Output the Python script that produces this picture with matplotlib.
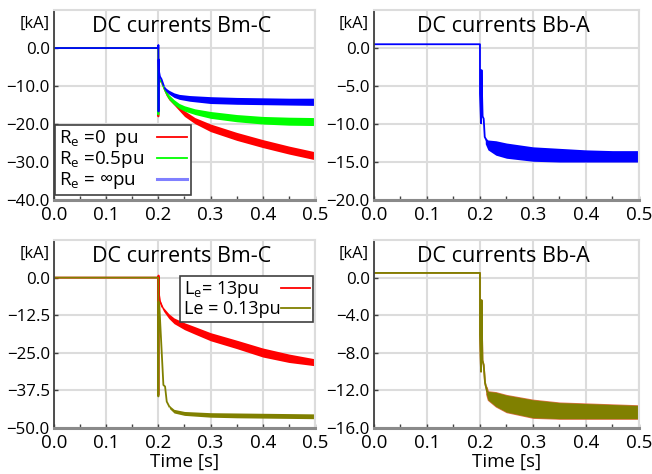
import matplotlib
matplotlib.use('Agg')
import matplotlib.pyplot as plt
from matplotlib.ticker import MultipleLocator

plt.rcParams['font.family'] = ['Open Sans', 'DejaVu Sans']
plt.rcParams['mathtext.default'] = 'regular'

# --- Bm-C, earthing resistance cases (kA) ---
# pre-fault / first transient as lines, oscillating part as min/max envelope
bm_r0_t = [0.0, 0.1999, 0.2, 0.2003, 0.2006, 0.201, 0.203, 0.205]
bm_r0_v = [0.0, 0.0, -18.0, -6.0, -7.5, -8.0, -8.5, -8.8]
bm_r0_bt = [0.205, 0.21, 0.215, 0.22, 0.23, 0.24, 0.25, 0.27, 0.3, 0.35, 0.4, 0.45, 0.5]
bm_r0_hi = [-8.3, -10.0, -11.4, -12.4, -13.8, -15.2, -16.5, -18.3, -20.0, -22.2, -24.1, -25.8, -27.3]
bm_r0_lo = [-9.3, -11.0, -12.5, -13.6, -15.0, -16.5, -18.0, -19.9, -22.0, -24.3, -26.2, -27.9, -29.4]

bm_r05_t = [0.0, 0.1999, 0.2, 0.2003, 0.2006, 0.201, 0.203, 0.205]
bm_r05_v = [0.0, 0.0, -17.5, -6.0, -7.5, -8.0, -8.5, -8.8]
bm_r05_bt = [0.205, 0.21, 0.215, 0.22, 0.23, 0.24, 0.25, 0.27, 0.3, 0.35, 0.4, 0.45, 0.5]
bm_r05_hi = [-8.3, -10.0, -11.3, -12.3, -13.6, -14.6, -15.2, -16.0, -16.7, -17.5, -18.0, -18.2, -18.3]
bm_r05_lo = [-9.3, -11.0, -12.4, -13.5, -14.9, -15.9, -16.6, -17.5, -18.5, -19.4, -20.0, -20.3, -20.4]

bm_rinf_t = [0.0, 0.1999, 0.2, 0.2003, 0.2006, 0.201, 0.2015, 0.203, 0.206, 0.21]
bm_rinf_v = [0.0, 0.0, 0.8, -16.7, -3.0, -6.0, -6.4, -7.5, -8.2, -9.8]
bm_rinf_bt = [0.21, 0.215, 0.22, 0.23, 0.24, 0.26, 0.3, 0.35, 0.4, 0.45, 0.5]
bm_rinf_hi = [-9.8, -10.6, -11.1, -11.8, -12.2, -12.5, -12.8, -13.0, -13.1, -13.2, -13.2]
bm_rinf_lo = [-10.6, -11.5, -12.1, -13.0, -13.5, -14.0, -14.6, -14.8, -14.9, -15.0, -15.1]

# --- Bb-A, R_e = inf ---
bb_r_t = [0.0, 0.2, 0.2, 0.202, 0.203, 0.2035, 0.205, 0.207, 0.209, 0.212]
bb_r_v = [0.5, 0.5, -6.0, -9.9, -2.9, -5.0, -9.0, -9.3, -11.7, -12.1]
bb_r_bt = [0.21, 0.215, 0.23, 0.25, 0.3, 0.35, 0.4, 0.45, 0.5]
bb_r_hi = [-11.8, -12.1, -12.2, -12.5, -13.0, -13.2, -13.4, -13.5, -13.5]
bb_r_lo = [-12.6, -13.4, -14.1, -14.5, -14.9, -15.0, -15.0, -15.0, -15.0]

# --- Bm-C, earthing inductance cases ---
bm_l13_t = [0.0, 0.1999, 0.2, 0.2003, 0.2006, 0.2032, 0.207]
bm_l13_v = [0.0, 0.0, -39.0, 0.7, -5.0, -7.9, -9.6]
bm_l13_bt = [0.203, 0.207, 0.21, 0.215, 0.22, 0.23, 0.25, 0.27, 0.3, 0.35, 0.4, 0.45, 0.5]
bm_l13_hi = [-7.5, -9.2, -10.0, -11.0, -12.0, -13.4, -15.0, -16.3, -18.3, -20.8, -23.4, -25.4, -27.0]
bm_l13_lo = [-8.3, -10.2, -11.2, -12.4, -13.6, -15.3, -17.3, -18.8, -21.0, -23.6, -26.4, -28.2, -29.3]

bm_l013_t = [0.0, 0.1999, 0.2, 0.2003, 0.2019, 0.2096, 0.2128, 0.216, 0.221]
bm_l013_v = [0.0, 0.0, -39.5, -8.0, -9.6, -35.7, -36.2, -41.2, -42.9]
bm_l013_bt = [0.221, 0.23, 0.25, 0.3, 0.35, 0.4, 0.45, 0.5]
bm_l013_hi = [-42.5, -43.8, -44.5, -44.9, -45.0, -45.1, -45.2, -45.3]
bm_l013_lo = [-43.5, -45.0, -45.8, -46.4, -46.6, -46.7, -46.8, -46.9]

# --- Bb-A, earthing inductance cases (both nearly coincide) ---
bb_l13_t = [0.0, 0.2, 0.2, 0.202, 0.203, 0.2035, 0.2047, 0.207, 0.2096, 0.2134]
bb_l13_v = [0.5, 0.5, -6.0, -10.0, -2.4, -5.0, -8.8, -9.3, -11.2, -12.1]
bb_l13_bt = [0.212, 0.215, 0.23, 0.25, 0.3, 0.35, 0.4, 0.45, 0.5]
bb_l13_hi = [-11.6, -12.1, -12.2, -12.5, -13.0, -13.3, -13.4, -13.5, -13.6]
bb_l13_lo = [-12.4, -13.0, -13.7, -14.3, -14.9, -15.0, -15.0, -15.0, -15.0]

bb_l013_t = [0.0, 0.2, 0.2, 0.202, 0.203, 0.2035, 0.2047, 0.207, 0.2096, 0.2134]
bb_l013_v = [0.5, 0.5, -6.0, -10.0, -2.4, -5.0, -8.8, -9.3, -11.2, -12.1]
bb_l013_bt = [0.212, 0.215, 0.23, 0.25, 0.3, 0.35, 0.4, 0.45, 0.5]
bb_l013_hi = [-11.6, -12.1, -12.2, -12.5, -13.0, -13.3, -13.4, -13.5, -13.6]
bb_l013_lo = [-12.4, -13.0, -13.7, -14.3, -14.9, -15.0, -15.0, -15.0, -15.0]

RED = '#ff0000'
GREEN = '#00ff00'
BLUE = '#0000ff'
OLIVE = '#808000'


def draw_trace(ax, t, v, bt, hi, lo, color, label=None, legend_color=None, edge=0.0):
    ax.plot(t, v, color=color, linewidth=1.3)
    ax.fill_between(bt, hi, lo, color=color, linewidth=edge)
    # dummy handle so the legend shows a plain line
    ax.plot([], [], color=legend_color or color, linewidth=1.3 if legend_color is None else 2.2,
            label=label)


def fmt(v):
    return ('%.1f' % v).replace('-', '\u2212')


def style_axes(ax, ylim, ystep, title, xlabel=False):
    ax.set_xlim(0.0, 0.5)
    ax.set_ylim(*ylim)
    ax.xaxis.set_major_locator(MultipleLocator(0.1))
    ax.xaxis.set_minor_locator(MultipleLocator(0.05))
    yticks = [ylim[0] + i * ystep for i in range(int(round((0 - ylim[0]) / ystep)) + 1)]
    ax.set_yticks(yticks)
    ax.set_yticklabels([fmt(y) for y in yticks])
    ax.set_xticklabels([fmt(x) for x in ax.get_xticks()])
    ax.grid(True, color='#dcdcdc', linewidth=1.5)
    ax.set_axisbelow(True)
    ax.tick_params(axis='both', which='both', direction='in', length=3, width=1,
                   color='#404040')
    ax.tick_params(axis='y', pad=3, labelsize=12.2)
    ax.tick_params(axis='x', pad=4, labelsize=13.5)
    ax.spines['left'].set_color('#404040')
    ax.spines['left'].set_linewidth(1.3)
    ax.spines['bottom'].set_color('#8a8a8a')
    ax.spines['bottom'].set_linewidth(2.2)
    for s in ('top', 'right'):
        ax.spines[s].set_color('#dcdcdc')
        ax.spines[s].set_linewidth(1.5)
    ax.text(0.49, 0.915, title, transform=ax.transAxes, ha='center', va='center',
            fontsize=15.5, color='black')
    ax.text(-0.018, 0.925, '[kA]', transform=ax.transAxes, ha='right', va='center',
            fontsize=12)
    if xlabel:
        ax.set_xlabel('Time [s]', fontsize=13.5, labelpad=1)


def tidy_legend(leg, row_width):
    # labels flush left, line samples flush right
    leg.get_frame().set_linewidth(1.2)
    col = leg._legend_handle_box.get_children()[0]
    col.align = 'left'
    for row in col.get_children():
        row.mode = 'expand'
        row.width = row_width


fig = plt.figure(figsize=(6.52, 4.74), dpi=100)
ax1 = fig.add_axes([0.0828, 0.578, 0.4003, 0.4008])
ax2 = fig.add_axes([0.5736, 0.578, 0.4064, 0.4008])
ax3 = fig.add_axes([0.0828, 0.097, 0.4003, 0.3966])
ax4 = fig.add_axes([0.5736, 0.097, 0.4064, 0.3966])

legend_kw = dict(markerfirst=False, handlelength=1.6, handletextpad=0.1,
                 labelspacing=0.0, borderpad=0.2, fancybox=False, framealpha=1,
                 edgecolor='#404040')

# 1. Bm-C, R_e variants
draw_trace(ax1, bm_r0_t, bm_r0_v, bm_r0_bt, bm_r0_hi, bm_r0_lo, RED, r'R$_e$ =0  pu')
draw_trace(ax1, bm_r05_t, bm_r05_v, bm_r05_bt, bm_r05_hi, bm_r05_lo, GREEN, r'R$_e$ =0.5pu')
draw_trace(ax1, bm_rinf_t, bm_rinf_v, bm_rinf_bt, bm_rinf_hi, bm_rinf_lo, BLUE,
           r'R$_e$ = ∞pu', legend_color='#8080ff')
style_axes(ax1, (-40, 10), 10, 'DC currents Bm-C')
leg1 = ax1.legend(loc='lower left', bbox_to_anchor=(0.004, 0.026), borderaxespad=0.0,
                  fontsize=13.5, **legend_kw)
tidy_legend(leg1, 128)

# 2. Bb-A
draw_trace(ax2, bb_r_t, bb_r_v, bb_r_bt, bb_r_hi, bb_r_lo, BLUE)
style_axes(ax2, (-20, 5), 5, 'DC currents Bb-A')

# 3. Bm-C, L_e variants
draw_trace(ax3, bm_l13_t, bm_l13_v, bm_l13_bt, bm_l13_hi, bm_l13_lo, RED, r'L$_e$= 13pu')
draw_trace(ax3, bm_l013_t, bm_l013_v, bm_l013_bt, bm_l013_hi, bm_l013_lo, OLIVE, 'Le = 0.13pu')
style_axes(ax3, (-50, 12.5), 12.5, 'DC currents Bm-C', xlabel=True)
leg3 = ax3.legend(loc='upper right', bbox_to_anchor=(0.994, 0.81), borderaxespad=0.0,
                  fontsize=13, **legend_kw)
tidy_legend(leg3, 126)

# 4. Bb-A
draw_trace(ax4, bb_l13_t, bb_l13_v, bb_l13_bt, bb_l13_hi, bb_l13_lo, '#e0704a', edge=1.0)
draw_trace(ax4, bb_l013_t, bb_l013_v, bb_l013_bt, bb_l013_hi, bb_l013_lo, OLIVE)
style_axes(ax4, (-16, 4), 4, 'DC currents Bb-A', xlabel=True)

plt.savefig('out.png', dpi=100)
print('saved out.png')
